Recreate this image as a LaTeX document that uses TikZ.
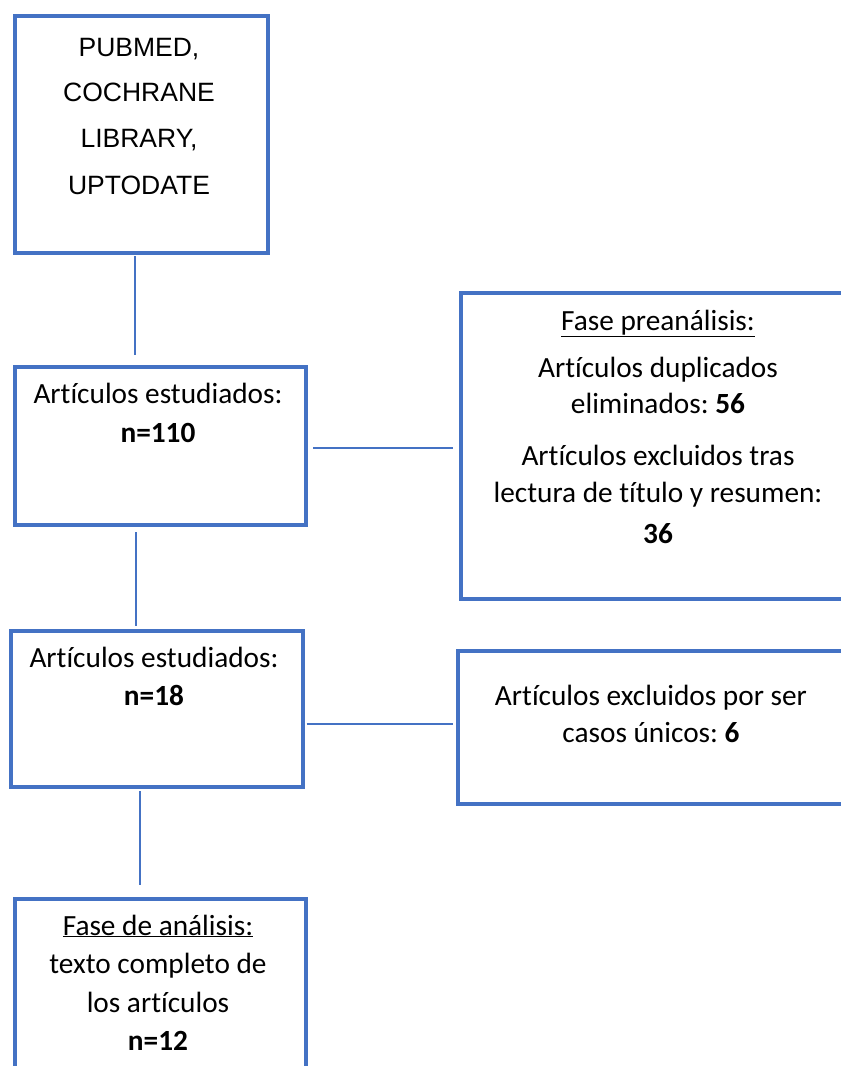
\documentclass[tikz,border=0pt]{standalone}
\usepackage{fontspec}
\setmainfont[Ligatures=NoCommon]{Carlito}
\newfontfamily\arialfont{Liberation Sans}
\definecolor{boxblue}{HTML}{4472C4}
\frenchspacing
\tikzset{
  box/.style={draw=boxblue, line width=4pt, fill=white, rectangle, inner sep=0pt, anchor=north west},
  conn/.style={draw=boxblue, line width=1.3pt},
  txt/.style={anchor=base, inner sep=0pt, font=\frenchspacing\fontsize{29.3}{35}\selectfont},
  atxt/.style={anchor=base, inner sep=0pt, font=\arialfont\fontsize{26.5}{32}\selectfont},
}
\begin{document}
\begin{tikzpicture}[x=1pt,y=-1pt]
\useasboundingbox (0,0) rectangle (841,1066);
\begin{scope}
\clip (0,0) rectangle (841,1066);
% boxes
\node[box, minimum width=253.5pt, minimum height=237.5pt] (b1) at (12.5,13.5) {};
\node[box, minimum width=291.5pt, minimum height=158pt] (b2) at (12.5,365) {};
\node[box, minimum width=291.5pt, minimum height=156pt] (b3) at (9,629) {};
\node[box, minimum width=291.5pt, minimum height=200pt] (b4) at (12.5,897) {};
\node[box, minimum width=400pt, minimum height=306pt] (bA) at (459,291) {};
\node[box, minimum width=400pt, minimum height=153pt] (bB) at (456,649) {};
% connector guide coordinates
\coordinate (x1) at (135,0);
\coordinate (x2) at (136,0);
\coordinate (x3) at (140,0);
\coordinate (yA) at (0,448);
\coordinate (yB) at (0,724);
\draw[conn] ([yshift=-1pt]b1.south -| x1) -- ([yshift=10pt]b2.north -| x1);
\draw[conn] ([yshift=-5pt]b2.south -| x2) -- ([yshift=3pt]b3.north -| x2);
\draw[conn] ([yshift=-2pt]b3.south -| x3) -- ([yshift=12pt]b4.north -| x3);
\draw[conn] ([xshift=5pt]b2.east |- yA) -- ([xshift=-6pt]bA.west |- yA);
\draw[conn] ([xshift=2pt]b3.east |- yB) -- ([xshift=-3pt]bB.west |- yB);
% texts box 1
\node[atxt] (t11) at (139,56.7) {PUBMED,};
\node[atxt] (t12) at (139,101.7) {COCHRANE};
\node[atxt] (t13) at (139,147) {LIBRARY,};
\node[atxt] (t14) at (139,194) {UPTODATE};
% box 2
\node[txt] (t21) at (158,403) {Artículos estudiados:};
\node[txt] (t22) at (158,442) {\textbf{n=110}};
% box 3
\node[txt] (t31) at (154,667) {Artículos estudiados:};
\node[txt] (t32) at (154,705) {\textbf{n=18}};
% box 4
\node[txt] (t41) at (158,935) {\underline{Fase de análisis:}};
\node[txt] (t42) at (158,973) {texto completo de};
\node[txt] (t43) at (158,1012) {los artículos};
\node[txt] (t44) at (158,1050) {\textbf{n=12}};
% box A
\node[txt] (tA1) at (658,330) {\underline{Fase preanálisis:}};
\node[txt] (tA2) at (658,377) {Artículos duplicados};
\node[txt] (tA3) at (658,413) {eliminados: \textbf{56}};
\node[txt] (tA4) at (658,465) {Artículos excluidos tras};
\node[txt] (tA5) at (658,502) {lectura de título y resumen:};
\node[txt] (tA6) at (658,543) {\textbf{36}};
% box B
\node[txt] (tB1) at (651,705) {Artículos excluidos por ser};
\node[txt] (tB2) at (651,742) {casos únicos: \textbf{6}};
\end{scope}
\end{tikzpicture}
\end{document}
